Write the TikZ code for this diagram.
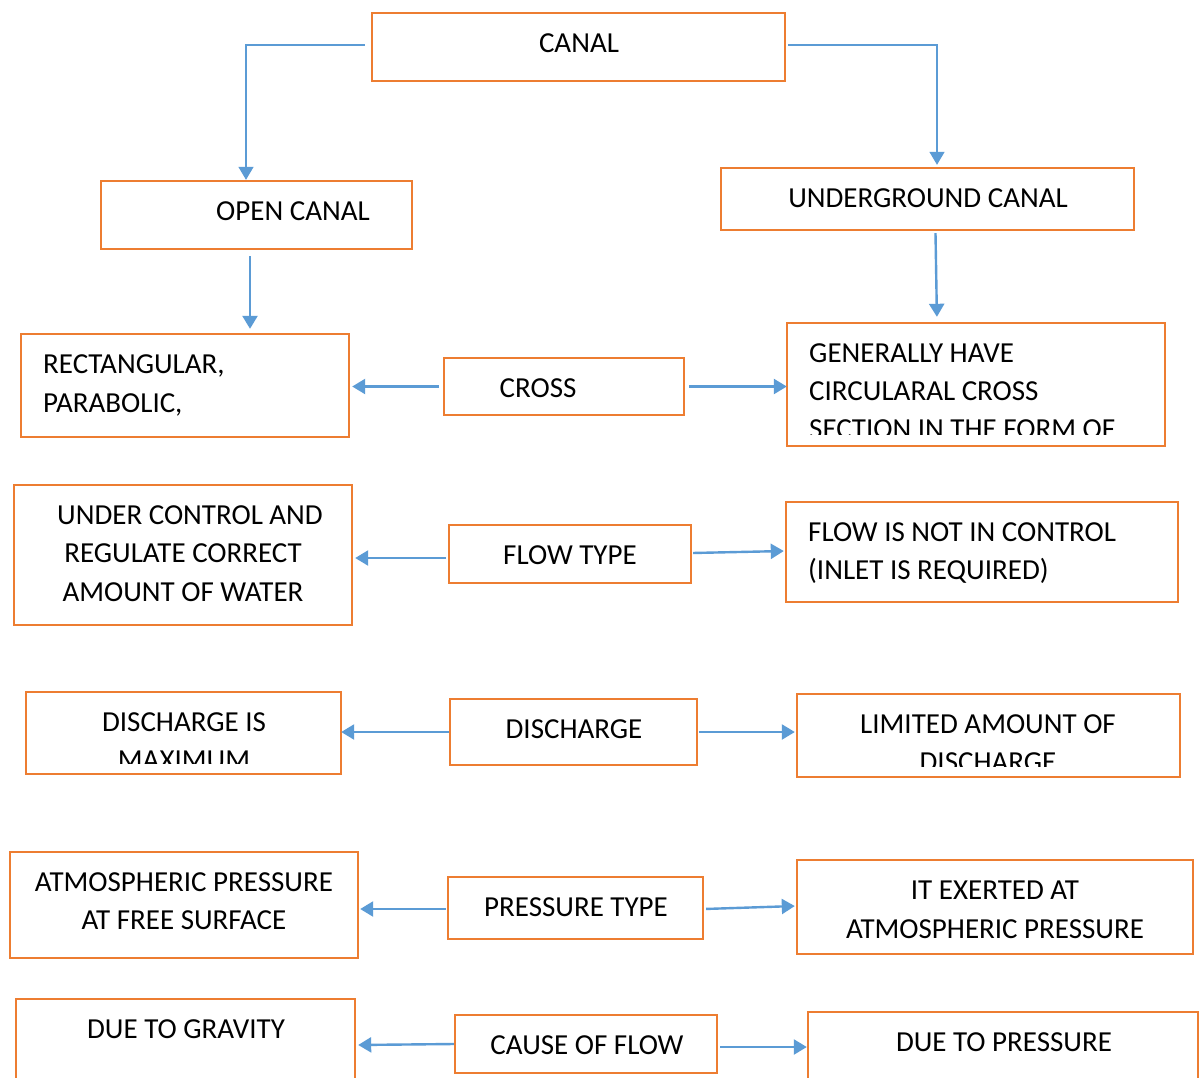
\documentclass[tikz,border=0pt]{standalone}
\usepackage{fontspec}
\setmainfont{Carlito}
\usetikzlibrary{arrows.meta}
\definecolor{bord}{HTML}{ED7D31}
\definecolor{arrc}{HTML}{5B9BD5}
\tikzset{
  box/.style={draw=bord, line width=2.4pt, inner sep=0pt, rectangle},
  txt/.style={anchor=base, inner sep=0pt, font=\fontsize{29}{38}\selectfont},
  ltxt/.style={anchor=base west, inner sep=0pt, font=\fontsize{29}{38}\selectfont},
  arr/.style={draw=arrc, line width=2.4pt, -{Triangle[width=15pt,length=13pt]}},
}
\newcommand{\mybox}[5]{\node[box, minimum width={#4-#2}, minimum height={#5-#3}] (#1) at ({(#2+#4)/2},{(#3+#5)/2}) {};}
\begin{document}
\begin{tikzpicture}[x=1pt,y=-1pt]
\useasboundingbox (0,0) rectangle (1200,1077);
\clip (0,0) rectangle (1200,1077);
\fill[white] (0,0) rectangle (1200,1077);

% boxes
\mybox{canal}{372}{13}{785}{81}
\mybox{open}{101}{181}{412}{249}
\mybox{ug}{721}{168}{1134}{230}
\mybox{rect}{21}{334}{349}{437}
\mybox{cross}{444}{358}{684}{415}
\mybox{gen}{787}{323}{1165}{446}
\mybox{uc}{14}{485}{352}{625}
\mybox{flow}{449}{525}{691}{583}
\mybox{fin}{786}{502}{1178}{602}
\mybox{dmax}{26}{692}{341}{774}
\mybox{dis}{450}{699}{697}{765}
\mybox{lim}{797}{694}{1180}{777}
\mybox{atm}{10}{852}{358}{958}
\mybox{pt}{448}{877}{703}{939}
\mybox{ite}{797}{860}{1193}{954}
\mybox{grav}{16}{999}{355}{1100}
\mybox{cf}{455}{1015}{717}{1073}
\mybox{dp}{808}{1012}{1198}{1100}

% texts
\node[txt] (t1) at (579,52) {CANAL};
\node[txt] (t2) at (293,220) {OPEN CANAL};
\node[txt] (t3) at (928,207) {UNDERGROUND CANAL};
\node[ltxt] (t4) at (43,373) {RECTANGULAR,};
\node[ltxt] (t5) at (43,412) {PARABOLIC,};
\node[txt] (t6) at (538,397) {CROSS};
\node[ltxt] (t7) at (809,362) {GENERALLY HAVE};
\node[ltxt] (t8) at (809,400) {CIRCULARAL CROSS};
\begin{scope}
\clip (790,326) rectangle (1162,434);
\node[ltxt] (t9) at (809,438) {SECTION IN THE FORM OF};
\end{scope}
\node[txt] (t10) at (190,524) {UNDER CONTROL AND};
\node[txt] (t11) at (183,562) {REGULATE CORRECT};
\node[txt] (t12) at (183,601) {AMOUNT OF WATER};
\node[txt] (t13) at (570,564) {FLOW TYPE};
\node[ltxt] (t14) at (808,541) {FLOW IS NOT IN CONTROL};
\node[ltxt] (t15) at (808,579) {(INLET IS REQUIRED)};
\node[txt] (t16) at (184,731) {DISCHARGE IS};
\begin{scope}
\clip (29,695) rectangle (338,763);
\node[txt] (t17) at (184,769) {MAXIMUM};
\end{scope}
\node[txt] (t18) at (574,738) {DISCHARGE};
\node[txt] (t19) at (988,733) {LIMITED AMOUNT OF};
\begin{scope}
\clip (800,697) rectangle (1177,766);
\node[txt] (t20) at (988,771) {DISCHARGE};
\end{scope}
\node[txt] (t21) at (184,891) {ATMOSPHERIC PRESSURE};
\node[txt] (t22) at (184,929) {AT FREE SURFACE};
\node[txt] (t23) at (576,916) {PRESSURE TYPE};
\node[txt] (t24) at (995,899) {IT EXERTED AT};
\node[txt] (t25) at (995,938) {ATMOSPHERIC PRESSURE};
\node[txt] (t26) at (186,1038) {DUE TO GRAVITY};
\node[txt] (t27) at (587,1054) {CAUSE OF FLOW};
\node[txt] (t28) at (1004,1051) {DUE TO PRESSURE};

% connectors
\draw[arr, line width=1.5pt] ([xshift=-6pt,yshift=2pt]canal.west) -| ([xshift=-10.5pt]open.north);
\draw[arr, line width=1.5pt, shorten >=2pt] ([xshift=2pt,yshift=2pt]canal.east) -| ([xshift=9.5pt]ug.north);
\draw[arr, shorten >=4pt] ([xshift=-6.5pt,yshift=-6pt]open.south) -- ([xshift=-6.5pt]open.south |- rect.north);
\draw[arr, shorten >=5pt] ([xshift=8pt,yshift=-2pt]ug.south) -- ([xshift=9.5pt]ug.south |- gen.north);
\draw[arr, shorten <=4pt, shorten >=2pt] (cross.west) -- (cross.west -| rect.east);
\draw[arr, shorten <=4pt, shorten >=-1pt] (cross.east) -- (cross.east -| gen.west);
\draw[arr, shorten <=2pt, shorten >=2pt] ([yshift=-4pt]flow.west) -- ([yshift=-4pt]flow.west -| uc.east);
\draw[arr, shorten <=1pt, shorten >=1pt] ([yshift=1pt]flow.east) -- ([yshift=3pt]flow.east -| fin.west);
\draw[arr, shorten >=-1pt] (dis.west) -- (dis.west -| dmax.east);
\draw[arr, shorten <=1pt, shorten >=1pt] (dis.east) -- (dis.east -| lim.west);
\draw[arr, shorten <=1pt, shorten >=1pt] ([yshift=-1pt]pt.west) -- ([yshift=-1pt]pt.west -| atm.east);
\draw[arr, shorten <=2pt, shorten >=1pt] ([yshift=-1pt]pt.east) -- ([yshift=2pt]pt.east -| ite.west);
\draw[arr, shorten >=2pt] (cf.west) -- ([yshift=-1pt]cf.west -| grav.east);
\draw[arr, shorten <=2pt, shorten >=0pt] ([yshift=-3pt]cf.east) -- ([yshift=-3pt]cf.east -| dp.west);
\end{tikzpicture}
\end{document}
